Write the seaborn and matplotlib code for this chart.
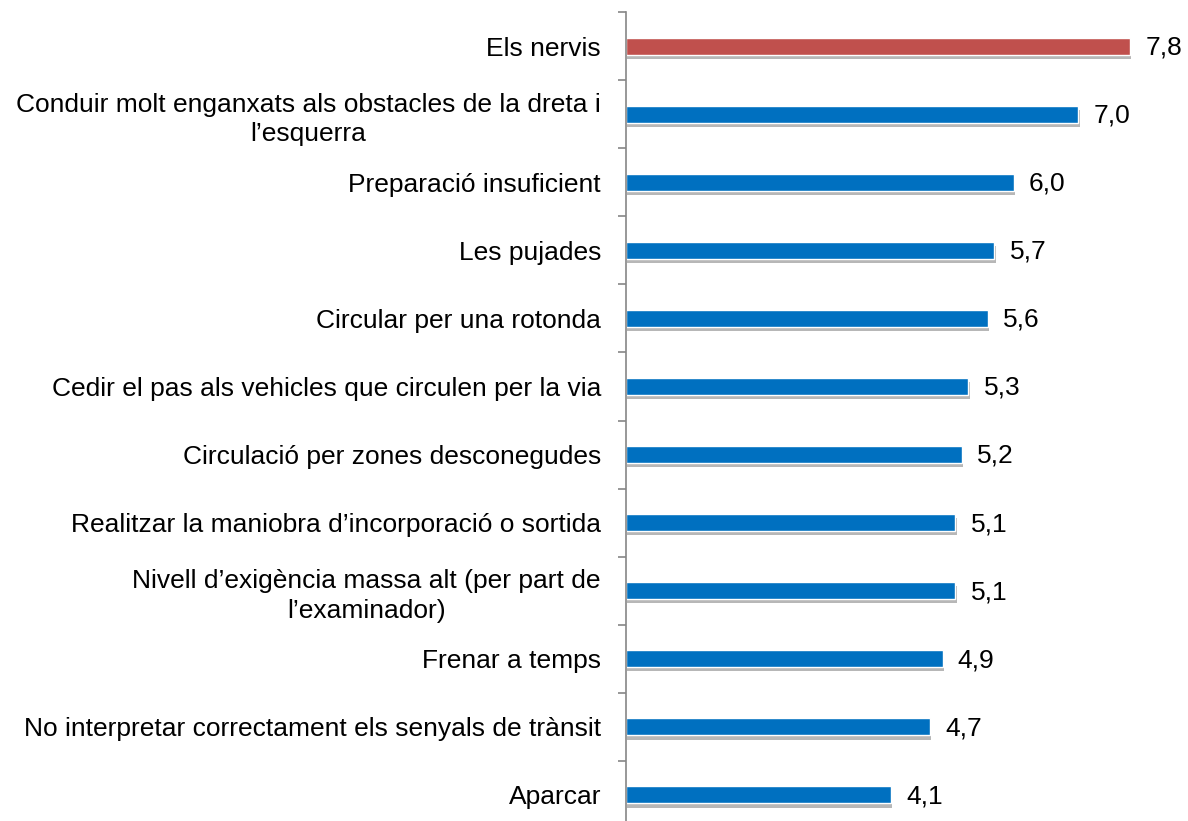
import numpy as np
import matplotlib
matplotlib.use("Agg")
import matplotlib.pyplot as plt
import matplotlib.patheffects as pe
import seaborn as sns

# Dades (de dalt a baix)
categories = [
    "Els nervis",
    "Conduir molt enganxats als obstacles de la dreta i\nl’esquerra",
    "Preparació insuficient",
    "Les pujades",
    "Circular per una rotonda",
    "Cedir el pas als vehicles que circulen per la via",
    "Circulació per zones desconegudes",
    "Realitzar la maniobra d’incorporació o sortida",
    "Nivell d’exigència massa alt (per part de\nl’examinador)",
    "Frenar a temps",
    "No interpretar correctament els senyals de trànsit",
    "Aparcar",
]
valors = [7.8, 7.0, 6.0, 5.7, 5.6, 5.3, 5.2, 5.1, 5.1, 4.9, 4.7, 4.1]
colors = ["#C0504D"] + ["#0070C0"] * (len(valors) - 1)

sns.set_style("white")
plt.rcParams['font.family'] = ['Liberation Sans', 'DejaVu Sans']
plt.rcParams['text.color'] = 'black'
plt.rcParams['ytick.labelcolor'] = 'black'

fig = plt.figure(figsize=(11.88, 8.21), dpi=100)
ax = fig.add_axes([626 / 1188, -8 / 821, (1188 - 626) / 1188, 817 / 821])

sns.barplot(x=valors, y=categories, hue=categories, palette=colors,
            legend=False, orient="h", width=0.25, ax=ax, saturation=1)

# ombra sota les barres
for bar in ax.patches:
    bar.set_path_effects([pe.SimplePatchShadow(offset=(1, -3), shadow_rgbFace='#606060', alpha=0.45),
                          pe.Normal()])

for i, v in enumerate(valors):
    ax.annotate(f"{v:.1f}".replace(".", ","), xy=(v, i), xytext=(11, -1),
                textcoords="offset points", ha="left", va="center", fontsize=19, color="black")

ax.set_xlim(0, 562 / 64.6)
ax.set_ylim(len(valors) - 0.5, -0.5)
ax.set_xlabel("")
ax.set_ylabel("")
ax.set_xticks([])

ax.set_yticks(range(len(valors)))
ax.set_yticklabels(categories, fontsize=19, color="black")
for t in ax.get_yticklabels():
    t.set_multialignment("center")
    t.set_linespacing(1.3)
ax.tick_params(axis="y", which="major", length=0, pad=18)
ax.set_yticks(np.arange(-0.5, len(valors), 1), minor=True)
ax.tick_params(axis="y", which="minor", length=6, width=1.2, color="#868686", direction="out", left=True)

for s in ["top", "right", "bottom"]:
    ax.spines[s].set_visible(False)
ax.spines["left"].set_color("#868686")
ax.spines["left"].set_linewidth(1.2)

fig.savefig("out.png", dpi=100)
